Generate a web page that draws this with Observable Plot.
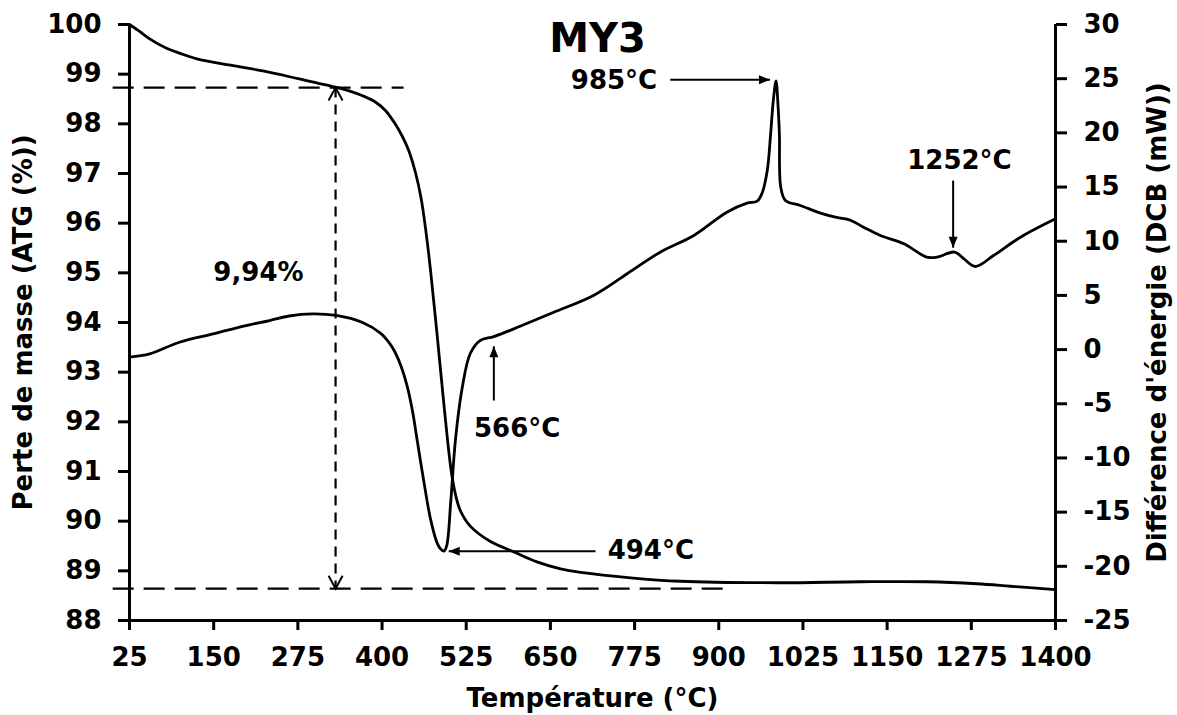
<!DOCTYPE html>
<html><head><meta charset="utf-8">
<script src="https://cdn.jsdelivr.net/npm/d3@7"></script>
<script src="https://cdn.jsdelivr.net/npm/@observablehq/plot@0.6"></script>
<style>
html,body{margin:0;padding:0;background:#fff;}
svg{font-family:"DejaVu Sans",sans-serif;font-weight:bold;}
</style></head><body><div id="chart"></div>
<script>
// ---- Data ----
// TGA curve: temperature (°C) and mass (%), left axis
const tgaTemp = [25, 40, 55, 80, 100, 125, 175, 225, 275, 330, 350, 372, 390, 405, 418, 430, 440, 450, 458, 465, 472, 482, 492, 502, 508, 516, 531, 561, 596, 630, 665, 695, 769, 843, 990, 1110, 1210, 1283, 1333, 1400];
const tgaMass = [100, 99.86, 99.71, 99.52, 99.42, 99.31, 99.18, 99.06, 98.91, 98.74, 98.67, 98.56, 98.44, 98.27, 98.03, 97.75, 97.45, 97.0, 96.5, 95.85, 95.05, 93.72, 92.33, 91.08, 90.6, 90.22, 89.9, 89.59, 89.38, 89.18, 89.04, 88.97, 88.86, 88.79, 88.76, 88.78, 88.78, 88.74, 88.69, 88.62];
// DSC curve: temperature (°C) and energy difference (mW), right axis
const dscTemp = [25, 55, 99, 149, 198, 233, 262, 297, 332, 371, 398, 411, 419, 428, 437, 445, 452, 462, 472, 482, 487, 492, 496, 502, 509, 519, 531, 546, 566, 606, 655, 714, 764, 813, 863, 912, 942, 957, 964, 972, 977, 981, 985, 988, 990, 992, 999, 1021, 1051, 1075, 1095, 1115, 1140, 1175, 1209, 1224, 1250, 1264, 1281, 1308, 1348, 1400];
const dscPower = [-0.7, -0.4, 0.68, 1.45, 2.22, 2.68, 3.1, 3.3, 3.15, 2.5, 1.5, 0.6, -0.2, -1.5, -3.3, -5.6, -8.3, -12.15, -15.64, -17.88, -18.4, -18.6, -18.1, -14.06, -8.33, -3.55, -0.36, 0.85, 1.2, 2.18, 3.45, 5.0, 7.0, 8.99, 10.53, 12.68, 13.51, 13.7, 14.38, 16.53, 19.91, 23.0, 24.8, 22.5, 19.9, 15.0, 13.76, 13.3, 12.6, 12.2, 11.95, 11.3, 10.53, 9.76, 8.53, 8.53, 9.0, 8.38, 7.67, 8.68, 10.37, 12.07];

// Axis ticks
const xTicks = d3.range(25, 1401, 125);
const leftTicks = d3.range(88, 101, 1);
const rightTicks = d3.range(-25, 31, 5);

// Mass-loss guide (dashed lines): y in %
const guideY = [98.73, 88.64];
const guideXStart = [0, 0];
const guideXEnd = [432, 910];
const guideArrowX = [331, 331];
const guideArrowRotate = [0, 180];

// Annotation arrows (temperature, mW); head direction in degrees
const arrowX1 = [828, 717, 566, 1248];
const arrowX2 = [976, 499, 566, 1248];
const arrowY1 = [24.9, -18.6, -4.7, 15.6];
const arrowY2 = [24.9, -18.6, 0.3, 9.4];
const arrowDir = [0, 180, -90, 90];

// Annotation texts on the DSC scale (temperature, mW)
const dscLabels = ["985°C", "494°C", "566°C", "1252°C"];
const dscLabelX = [808.5, 735, 600.6, 1257.4];
const dscLabelY = [24.8, -18.6, -7.3, 17.45];
const dscLabelAnchor = ["end", "start", "middle", "middle"];

// Texts on the mass scale
const massLabels = ["9,94%"];
const massLabelX = [216.5];
const massLabelY = [95.01];
const title = "MY3";
const titleX = 720, titleY = 99.7;

// right axis (mW) mapped onto left scale (%)
const toLeft = d => 88 + (d + 25) * 12 / 55;
const fromLeft = v => (v - 88) * 55 / 12 - 25;

const chevron = {draw(ctx) { ctx.moveTo(-7, 13); ctx.lineTo(0, 0); ctx.lineTo(7, 13); }};
const triHead = {draw(ctx) { ctx.moveTo(0, 0); ctx.lineTo(-11, -4.5); ctx.lineTo(-11, 4.5); ctx.closePath(); }};
const tickFont = 26;

const chart = Plot.plot({
  width: 1177,
  height: 715,
  marginLeft: 129,
  marginRight: 122,
  marginTop: 24,
  marginBottom: 95,
  style: {fontFamily: "'DejaVu Sans', sans-serif", fontSize: "26px", fontWeight: "bold", color: "#000", background: "#fff", overflow: "visible"},
  x: {domain: [25, 1400]},
  y: {domain: [88, 100]},
  marks: [
    Plot.axisX(xTicks, {tickSize: 10, tickPadding: 17, strokeWidth: 3, tickFormat: d => String(d), label: "Température (°C)", labelAnchor: "center", labelArrow: "none", labelOffset: 86, fontSize: tickFont}),
    Plot.axisY(leftTicks, {anchor: "left", tickSize: 11, tickPadding: 17, strokeWidth: 3, tickFormat: d => String(d), label: "Perte de masse (ATG (%))", labelAnchor: "center", labelArrow: "none", labelOffset: 116, fontSize: tickFont}),
    Plot.axisY(rightTicks.map(toLeft), {anchor: "right", tickSize: 11, tickPadding: 17, strokeWidth: 3, tickFormat: v => String(Math.round(fromLeft(v))), label: "Différence d'énergie (DCB (mW))", labelAnchor: "center", labelArrow: "none", labelOffset: 110, fontSize: tickFont}),
    Plot.ruleX([25, 1400], {strokeWidth: 3}),
    Plot.ruleY([88], {strokeWidth: 3}),
    Plot.link(guideY, {x1: guideXStart, x2: guideXEnd, y1: guideY, y2: guideY, strokeDasharray: "21,10", strokeWidth: 2.2}),
    Plot.link([0], {x1: [guideArrowX[0]], x2: [guideArrowX[1]], y1: [guideY[0]], y2: [guideY[1]], strokeDasharray: "10,7", strokeWidth: 2.2}),
    Plot.dot(guideY, {x: guideArrowX, y: guideY, rotate: guideArrowRotate, symbol: chevron, fill: "none", stroke: "#000", strokeWidth: 2}),
    Plot.line(tgaTemp, {x: tgaTemp, y: tgaMass, curve: "catmull-rom", strokeWidth: 2.8, stroke: "#000"}),
    Plot.line(dscTemp, {x: dscTemp, y: dscPower.map(toLeft), curve: "catmull-rom", strokeWidth: 2.8, stroke: "#000"}),
    Plot.link(arrowX1, {x1: arrowX1, x2: arrowX2, y1: arrowY1.map(toLeft), y2: arrowY2.map(toLeft), strokeWidth: 2, stroke: "#000"}),
    Plot.dot(arrowX2, {x: arrowX2, y: arrowY2.map(toLeft), rotate: arrowDir, symbol: triHead, fill: "#000", stroke: "none"}),
    Plot.text(dscLabels, {x: dscLabelX, y: dscLabelY.map(toLeft), text: dscLabels, textAnchor: "end", fontSize: 26, fontWeight: "bold", filter: (d, i) => dscLabelAnchor[i] === "end"}),
    Plot.text(dscLabels, {x: dscLabelX, y: dscLabelY.map(toLeft), text: dscLabels, textAnchor: "start", fontSize: 26, fontWeight: "bold", filter: (d, i) => dscLabelAnchor[i] === "start"}),
    Plot.text(dscLabels, {x: dscLabelX, y: dscLabelY.map(toLeft), text: dscLabels, textAnchor: "middle", fontSize: 26, fontWeight: "bold", filter: (d, i) => dscLabelAnchor[i] === "middle"}),
    Plot.text(massLabels, {x: massLabelX, y: massLabelY, text: massLabels, fontSize: 26, fontWeight: "bold"}),
    Plot.text([title], {x: [titleX], y: [titleY], text: [title], fontSize: 40, fontWeight: "bold"})
  ]
});
document.getElementById("chart").appendChild(chart);
</script></body></html>
